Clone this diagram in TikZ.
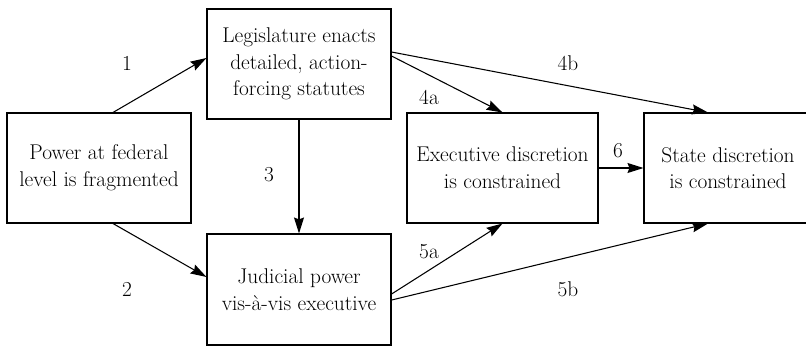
\documentclass[tikz,border=0pt]{standalone}
\usetikzlibrary{arrows.meta}
\begin{document}
\begin{tikzpicture}[x=0.75pt,y=-0.75pt,
  box/.style={draw, line width=0.8pt, align=center, inner sep=0pt, font=\fontsize{16}{20}\selectfont},
  lbl/.style={font=\fontsize{16}{20}\selectfont, inner sep=0pt},
  arr/.style={-{Stealth[length=12pt,width=7.5pt,inset=1.5pt]}, line width=0.8pt}]
\clip (0,0) rectangle (806,346);
\node[box, minimum width=138pt, minimum height=82.5pt] (A) at (99,168) {Power at federal\\level is fragmented};
\node[box, minimum width=138pt, minimum height=82.5pt] (B) at (299,64) {Legislature enacts\\detailed, action-\\forcing statutes};
\node[box, minimum width=138pt, minimum height=83.25pt] (C) at (299,289.5) {Judicial power\\vis-\`a-vis executive};
\node[box, minimum width=143.25pt, minimum height=82.5pt] (D) at (502.5,168) {Executive discretion\\is constrained};
\node[box, minimum width=126pt, minimum height=82.5pt] (E) at (728,168) {State discretion\\is constrained};

\draw[arr] ([xshift=10.5pt]A.north) -- ([yshift=4.5pt]B.west);
\draw[arr] ([xshift=10.5pt]A.south) -- ([yshift=9.4pt]C.west);
\draw[arr] (B.south) -- (C.north);
\draw[arr] ([yshift=6pt]B.east) -- (D.north);
\draw[arr] ([yshift=9pt]B.east) -- ([xshift=-15pt]E.north);
\draw[arr] ([yshift=-3.4pt]C.east) -- (D.south);
\draw[arr] ([yshift=-7.9pt]C.east) -- ([xshift=-15pt]E.south);
\draw[arr] (D.east) -- (E.west);

\node[lbl] (l1) at (127,63) {1};
\node[lbl] (l2) at (127,289) {2};
\node[lbl] (l3) at (269,175) {3};
\node[lbl] (l4a) at (429,97) {4a};
\node[lbl] (l4b) at (568,63) {4b};
\node[lbl] (l5a) at (429,252) {5a};
\node[lbl] (l5b) at (568,289) {5b};
\node[lbl] (l6) at (618,151) {6};
\end{tikzpicture}
\end{document}
